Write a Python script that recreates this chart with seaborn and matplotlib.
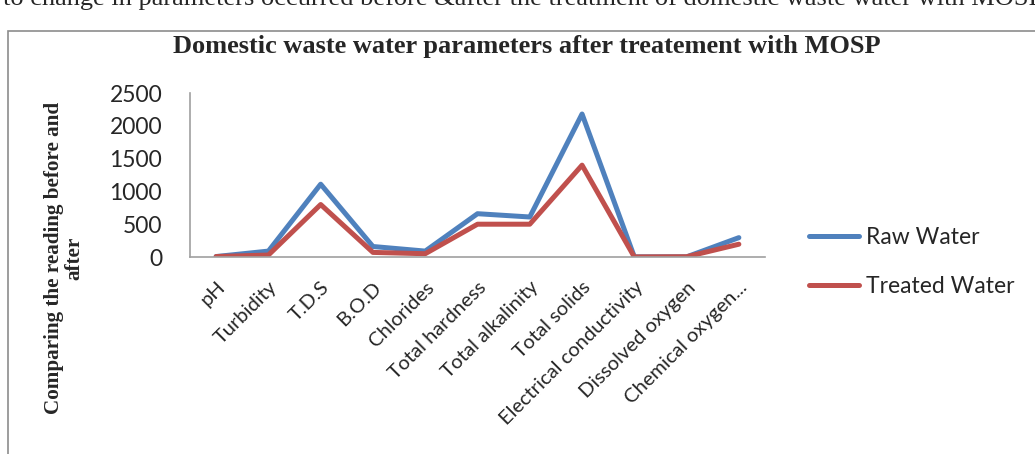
import pandas as pd
import matplotlib
matplotlib.use("Agg")
import matplotlib.pyplot as plt
import seaborn as sns

# ---------------- DATA ----------------
parameters = ["pH", "Turbidity", "T.D.S", "B.O.D", "Chlorides", "Total hardness",
              "Total alkalinity", "Total solids", "Electrical conductivity",
              "Dissolved oxygen", "Chemical oxygen..."]
raw_water = [7, 90, 1110, 160, 90, 660, 610, 2180, 2, 2, 295]
treated_water = [7, 30, 800, 70, 50, 500, 500, 1400, 1, 4, 195]

df = pd.DataFrame({
    "Parameter": parameters * 2,
    "Value": raw_water + treated_water,
    "Series": ["Raw Water"] * len(parameters) + ["Treated Water"] * len(parameters),
})

# ---------------- FIGURE ----------------
sns.set_style("white")
plt.rcParams["font.family"] = ["Lato", "DejaVu Sans"]

W, H = 1035, 454
fig = plt.figure(figsize=(W / 100, H / 100), dpi=100)

# chart frame and the cut off page text above it
fig.add_artist(plt.Rectangle((8 / W, -0.1), 1.2, (H - 31) / H + 0.1,
                             transform=fig.transFigure, fill=False,
                             edgecolor="#8c8c8c", linewidth=1.2))
fig.text(3 / W, 1 + 1 / H,
         "to change in parameters occurred before &after the treatment of domestic waste water with MOSP",
         family="Liberation Serif", fontsize=19, ha="left", va="center")

ax = fig.add_axes([190 / W, (H - 257) / H, (765 - 190) / W, (257 - 93) / H])
sns.lineplot(data=df, x="Parameter", y="Value", hue="Series", sort=False,
             palette={"Raw Water": "#4F81BD", "Treated Water": "#C0504D"},
             linewidth=3.6, ax=ax)

ax.set_xlim(-0.5, len(parameters) - 0.5)
ax.set_ylim(0, 2500)
ax.set_yticks([0, 500, 1000, 1500, 2000, 2500])
ax.tick_params(axis="y", length=0, labelsize=16.5, pad=20)
ax.set_xticks(range(len(parameters)))
ax.set_xticklabels(parameters, rotation=45, ha="right", rotation_mode="anchor", fontsize=14.5)
ax.tick_params(axis="x", length=0, pad=15.5)
for side in ["top", "right"]:
    ax.spines[side].set_visible(False)
for side in ["left", "bottom"]:
    ax.spines[side].set_color("#a0a0a0")
    ax.spines[side].set_linewidth(1.2)

ax.set_xlabel("")
ax.set_ylabel("")
fig.text(64 / W, (H - 258) / H, "Comparing the reading before and\nafter",
         family="Liberation Serif", fontweight="bold", fontsize=15.2,
         rotation=90, ha="center", va="center", linespacing=1.05)

fig.text(527 / W, 1 - 47 / H, "Domestic waste water parameters after treatement with MOSP",
         family="Liberation Serif", fontweight="bold", fontsize=19,
         ha="center", va="center")

ax.legend(loc="center left", bbox_to_anchor=(788 / W, (H - 262) / H),
          bbox_transform=fig.transFigure, frameon=False, fontsize=16.5,
          handlelength=2.2, handletextpad=0.3, labelspacing=1.25)

fig.savefig("out.png", dpi=100)
